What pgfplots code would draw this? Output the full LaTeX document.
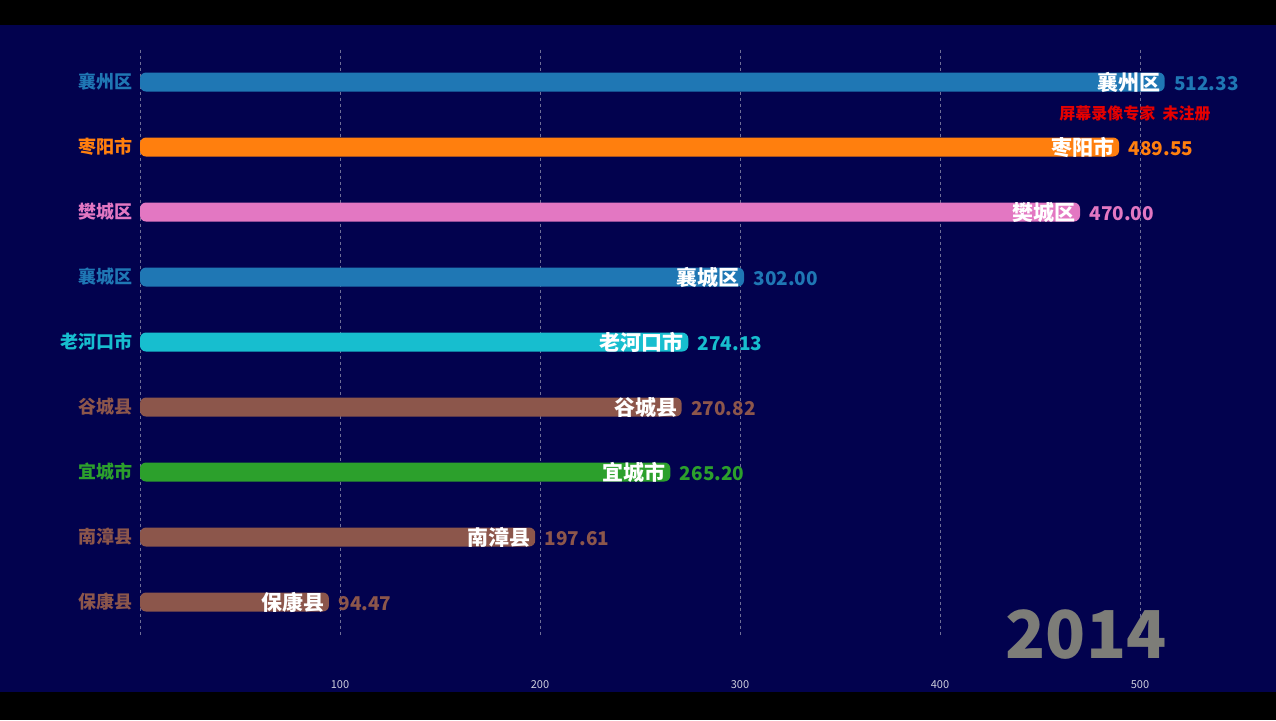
\documentclass[border=0pt]{standalone}
\usepackage{pgfplots}
\pgfplotsset{compat=1.18}
\usepackage{fontspec}
\setmainfont{Noto Sans CJK SC}
\definecolor{bg}{RGB}{2,2,78}
\definecolor{cblue}{RGB}{31,119,180}
\definecolor{corange}{RGB}{255,127,14}
\definecolor{cpink}{RGB}{227,119,194}
\definecolor{ccyan}{RGB}{23,190,207}
\definecolor{cbrown}{RGB}{140,86,75}
\definecolor{cgreen}{RGB}{44,160,44}
\definecolor{cgrid}{RGB}{110,110,150}
\definecolor{cyear}{RGB}{125,125,120}
\pgfplotsset{
  mybar/.style={xbar, bar width=19pt, bar shift=0pt, fill=#1, draw=none,
    rounded corners=6pt, point meta=x,
    every node near coord/.append style={anchor=west, text=#1,
      font=\bfseries\fontsize{19}{19}\selectfont, rounded corners=0pt}},
}
\newcommand{\inname}[1]{\llap{\textcolor{white}{\fontsize{21}{21}\selectfont #1}\hspace{8pt}}\hspace{6pt}}
\begin{document}
\begin{tikzpicture}
\useasboundingbox (0,0) rectangle (1276pt,720pt);
\fill[black] (0,0) rectangle (1276pt,720pt);
\fill[bg] (0,28pt) rectangle (1276pt,695pt);
\begin{axis}[
  at={(140pt,85.5pt)}, anchor=south west,
  scale only axis, width=1120pt, height=585pt,
  xmin=0, xmax=560, ymin=-0.5, ymax=8.5, y dir=reverse,
  axis line style={draw=none}, major tick length=0pt,
  xtick={0,100,200,300,400,500}, xticklabels={,100,200,300,400,500},
  xmajorgrids, grid style={cgrid, dashed, line width=0.6pt},
  xticklabel style={font=\fontsize{11}{11}\selectfont, text=white!80!bg, yshift=-42pt},
  ytick={0,1,2,3,4,5,6,7,8},
  yticklabels={{\textcolor{cblue}{襄州区}},{\textcolor{corange}{枣阳市}},{\textcolor{cpink}{樊城区}},{\textcolor{cblue}{襄城区}},{\textcolor{ccyan}{老河口市}},{\textcolor{cbrown}{谷城县}},{\textcolor{cgreen}{宜城市}},{\textcolor{cbrown}{南漳县}},{\textcolor{cbrown}{保康县}}},
  yticklabel style={font=\bfseries\fontsize{18}{18}\selectfont, xshift=-4pt},
  /pgf/number format/assume math mode=true,
]
\addplot[mybar=cblue, nodes near coords={\inname{襄州区}\pgfmathprintnumber[fixed,fixed zerofill,precision=2]{\pgfplotspointmeta}}] coordinates {(512.33,0)};
\addplot[mybar=corange, nodes near coords={\inname{枣阳市}\pgfmathprintnumber[fixed,fixed zerofill,precision=2]{\pgfplotspointmeta}}] coordinates {(489.55,1)};
\addplot[mybar=cpink, nodes near coords={\inname{樊城区}\pgfmathprintnumber[fixed,fixed zerofill,precision=2]{\pgfplotspointmeta}}] coordinates {(470.00,2)};
\addplot[mybar=cblue, nodes near coords={\inname{襄城区}\pgfmathprintnumber[fixed,fixed zerofill,precision=2]{\pgfplotspointmeta}}] coordinates {(302.00,3)};
\addplot[mybar=ccyan, nodes near coords={\inname{老河口市}\pgfmathprintnumber[fixed,fixed zerofill,precision=2]{\pgfplotspointmeta}}] coordinates {(274.13,4)};
\addplot[mybar=cbrown, nodes near coords={\inname{谷城县}\pgfmathprintnumber[fixed,fixed zerofill,precision=2]{\pgfplotspointmeta}}] coordinates {(270.82,5)};
\addplot[mybar=cgreen, nodes near coords={\inname{宜城市}\pgfmathprintnumber[fixed,fixed zerofill,precision=2]{\pgfplotspointmeta}}] coordinates {(265.20,6)};
\addplot[mybar=cbrown, nodes near coords={\inname{南漳县}\pgfmathprintnumber[fixed,fixed zerofill,precision=2]{\pgfplotspointmeta}}] coordinates {(197.61,7)};
\addplot[mybar=cbrown, nodes near coords={\inname{保康县}\pgfmathprintnumber[fixed,fixed zerofill,precision=2]{\pgfplotspointmeta}}] coordinates {(94.47,8)};
\end{axis}
\node[anchor=base east, font=\bfseries\fontsize{66}{66}\selectfont, text=cyear] at (1170pt,62pt) {2014};
\node[anchor=center, text=red!90!black, font=\bfseries\fontsize{16}{16}\selectfont] at (1135pt,607pt) {屏幕录像专家\ \ 未注册};
\end{tikzpicture}
\end{document}
